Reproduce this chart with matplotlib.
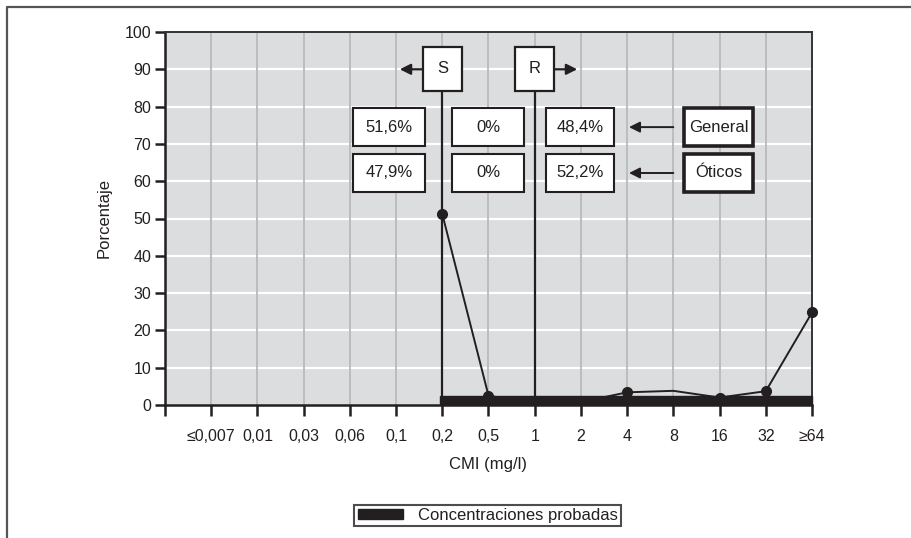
import matplotlib
matplotlib.use("Agg")
import matplotlib.pyplot as plt
from matplotlib.patches import Rectangle, Patch
from matplotlib.lines import Line2D

plt.rcParams['font.family'] = ['Liberation Sans', 'DejaVu Sans']

# datos
categorias = ['≤0,007', '0,01', '0,03', '0,06', '0,1', '0,2', '0,5', '1', '2',
              '4', '8', '16', '32', '≥64']
cmi_curva = ['0,2', '0,5', '1', '2', '4', '8', '16', '32', '≥64']
porcentaje = [51.2, 2.5, 0.4, 0.8, 3.4, 3.8, 2.0, 3.7, 24.8]
con_punto = [True, True, False, False, True, False, True, True, True]
rango_probado = ('0,2', '≥64')
corte_s = '0,2'
corte_r = '1'
valores_general = ['51,6%', '0%', '48,4%']
valores_oticos = ['47,9%', '0%', '52,2%']
grupos = ['General', 'Óticos']

W, H = 912, 538
oscuro = '#231f20'
fs = 12

fig = plt.figure(figsize=(W / 100, H / 100), dpi=100)
ax = fig.add_axes([165 / W, (H - 405) / H, (812 - 165) / W, (405 - 32) / H])
ax.set_facecolor('#dcdddf')

pos = {c: i + 1 for i, c in enumerate(categorias)}
ax.set_xlim(0, len(categorias))
ax.set_ylim(0, 100)
ax.set_xticks([pos[c] for c in categorias])
ax.set_xticklabels(categorias)
ax.set_xticks([0], minor=True)
ax.set_yticks(range(0, 101, 10))

for y in range(10, 100, 10):
    ax.axhline(y, color='white', lw=1.6, zorder=0.5)
for c in categorias[:-1]:
    ax.axvline(pos[c], color='#bcbdbf', lw=1.4, zorder=0.6)

for s in ax.spines.values():
    s.set_color('#333333')
    s.set_linewidth(1.4)
ax.spines['left'].set_color(oscuro)
ax.spines['bottom'].set_color(oscuro)
ax.spines['left'].set_linewidth(1.8)
ax.spines['bottom'].set_linewidth(1.8)
ax.tick_params(axis='both', which='both', direction='out', colors=oscuro,
               labelsize=11.5, width=1.8)
ax.tick_params(axis='x', which='both', length=8, pad=9)
ax.tick_params(axis='y', length=7, pad=3)

ax.set_xlabel('CMI (mg/l)', fontsize=fs, color=oscuro, labelpad=10)
ax.set_ylabel('Porcentaje', fontsize=fs, color=oscuro, labelpad=9)

# banda de concentraciones probadas
x0, x1 = pos[rango_probado[0]], pos[rango_probado[1]]
ax.add_patch(Rectangle((x0 - 0.04, 0.3), x1 - x0 + 0.04, 2.1, color=oscuro,
                       zorder=3, clip_on=False))

# curva
xs = [pos[c] for c in cmi_curva]
ax.plot(xs, porcentaje, color=oscuro, lw=1.4, zorder=4, clip_on=False)
ax.plot([x for x, m in zip(xs, con_punto) if m],
        [p for p, m in zip(porcentaje, con_punto) if m],
        'o', color=oscuro, ms=7, zorder=5, clip_on=False)

# lineas de corte S / R
box_w, box_y0, box_y1 = 0.84, 84.2, 96.0
for c, letra, signo in [(corte_s, 'S', -1), (corte_r, 'R', 1)]:
    xc = pos[c]
    ax.plot([xc, xc], [0, box_y0], color=oscuro, lw=1.6, zorder=4)
    ax.add_patch(Rectangle((xc - box_w / 2, box_y0), box_w, box_y1 - box_y0,
                           facecolor='white', edgecolor=oscuro, lw=1.6, zorder=6))
    ax.text(xc, (box_y0 + box_y1) / 2, letra, ha='center', va='center',
            fontsize=fs, color=oscuro, zorder=7)
    xa = xc + signo * box_w / 2
    ax.annotate('', xy=(xa + signo * 0.5, 90), xytext=(xa, 90),
                arrowprops=dict(arrowstyle='-|>', color=oscuro, lw=1.6,
                                mutation_scale=16, shrinkA=0, shrinkB=0),
                zorder=6)

# cajas de valores
columnas = [(4.07, 5.63), (6.21, 7.77), (8.25, 9.72)]
filas = [(69.4, 79.6), (57.1, 67.3)]
for (y0, y1), vals, grupo in zip(filas, [valores_general, valores_oticos], grupos):
    for (xa, xb), v in zip(columnas, vals):
        ax.add_patch(Rectangle((xa, y0), xb - xa, y1 - y0, facecolor='white',
                               edgecolor=oscuro, lw=1.5, zorder=6))
        ax.text((xa + xb) / 2, (y0 + y1) / 2, v, ha='center', va='center',
                fontsize=fs, color=oscuro, zorder=7)
    ym = (y0 + y1) / 2
    ax.annotate('', xy=(10.04, ym), xytext=(11.0, ym),
                arrowprops=dict(arrowstyle='-|>', color=oscuro, lw=1.4,
                                mutation_scale=16, shrinkA=0, shrinkB=0),
                zorder=6)
    ax.add_patch(Rectangle((11.23, y0), 1.5, y1 - y0, facecolor='white',
                           edgecolor=oscuro, lw=2.6, zorder=6))
    ax.text(11.98, ym, grupo, ha='center', va='center', fontsize=fs,
            color=oscuro, zorder=7)

# leyenda
leg = fig.legend(handles=[Patch(facecolor=oscuro, edgecolor=oscuro)],
                 labels=['Concentraciones probadas'], loc='center',
                 bbox_to_anchor=(487.5 / W, 1 - 515.5 / H), frameon=True,
                 fancybox=False, edgecolor=oscuro, fontsize=fs,
                 handlelength=2.7, handleheight=0.6, borderpad=0.2,
                 handletextpad=0.9, borderaxespad=0)
leg.get_frame().set_linewidth(1.5)
for t in leg.get_texts():
    t.set_color(oscuro)

# marco exterior
fig.add_artist(Line2D([7 / W, 7 / W, 1], [0, 1 - 7 / H, 1 - 7 / H],
                      color='#555555', lw=1.6, transform=fig.transFigure))

fig.savefig('out.png', dpi=100)
